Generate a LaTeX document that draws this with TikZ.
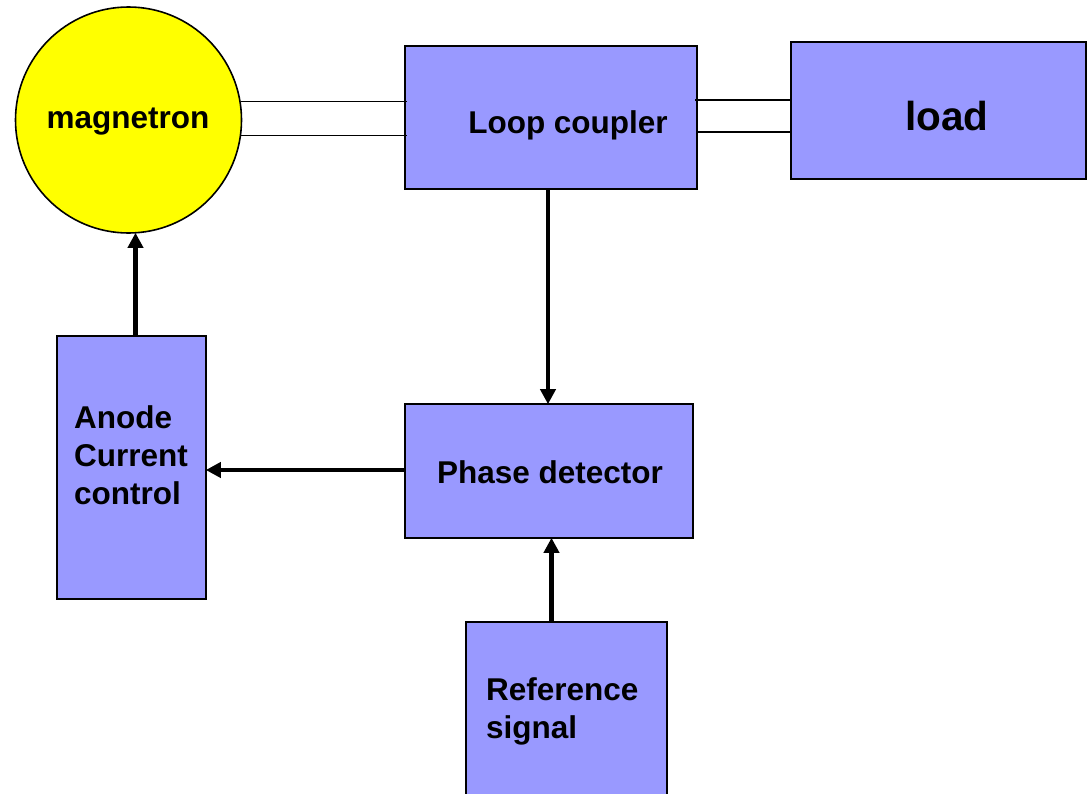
\documentclass[tikz,border=0pt]{standalone}
\usepackage{fontspec}
\setmainfont{Liberation Sans}
\usetikzlibrary{arrows.meta}
\definecolor{boxblue}{HTML}{9999FF}
\definecolor{magyellow}{HTML}{FFFF00}
\tikzset{
  box/.style={draw=black, line width=1.6pt, fill=boxblue, rectangle, inner sep=0pt},
  lbl/.style={font=\fontsize{31.5}{38}\selectfont\bfseries, inner sep=0pt, align=left},
  thin/.style={line width=1.5pt},
  flow/.style={line width=4.5pt, -{Triangle[length=15pt,width=15pt]}, shorten >=-1pt},
}
\begin{document}
\begin{tikzpicture}[x=1pt,y=-1pt]
\useasboundingbox (0,0) rectangle (1087,793);
\clip (0,0) rectangle (1087,793);
% magnetron
\node[circle, draw=black, line width=1.6pt, fill=magyellow, minimum size=226pt, inner sep=0pt] (mag) at (128.5,120) {};
\node[lbl] (magt) at (128,122) {magnetron};
% loop coupler
\node[box, minimum width=292pt, minimum height=143pt] (lc) at (551,117.5) {};
\node[lbl] (lct) at (568,125) {Loop coupler};
% load
\node[box, minimum width=295pt, minimum height=137pt] (load) at (938.5,110.5) {};
\node[lbl, font=\fontsize{40.5}{48}\selectfont\bfseries] (loadt) at (947,116) {load};
% phase detector
\node[box, minimum width=288pt, minimum height=134pt] (pd) at (549,471) {};
\node[lbl] (pdt) at (550,472) {Phase detector};
% anode current control
\node[box, minimum width=149pt, minimum height=263pt] (ac) at (131.5,467.5) {};
\node[lbl, anchor=north west] (act) at (74,405) {Anode\\Current\\control};
% reference signal
\node[box, minimum width=201pt, minimum height=190pt] (ref) at (566.5,717) {};
\node[lbl, anchor=north west] (reft) at (486,677) {Reference\\signal};
% waveguide lines
\coordinate (m1) at (241,101.5);
\coordinate (m2) at (241,135.5);
\draw[thin] (m1) -- (m1 -| lc.west) -- ++(3,0);
\draw[thin] (m2) -- (m2 -| lc.west) -- ++(3,0);
\coordinate (l1) at (695,100);
\coordinate (l2) at (698,132);
\draw[thin] (l1) -- (l1 -| load.west);
\draw[thin] (l2) -- (l2 -| load.west);
% arrows
\draw[flow] (lc.south -| 548,0) -- (pd.north -| 548,0);
\draw[flow] (pd.west |- 0,470) -- (ac.east |- 0,470);
\draw[flow] (ac.north -| 135.5,0) -- (mag.south -| 135.5,0);
\draw[flow] (ref.north -| 551.5,0) -- (pd.south -| 551.5,0);
\end{tikzpicture}
\end{document}
